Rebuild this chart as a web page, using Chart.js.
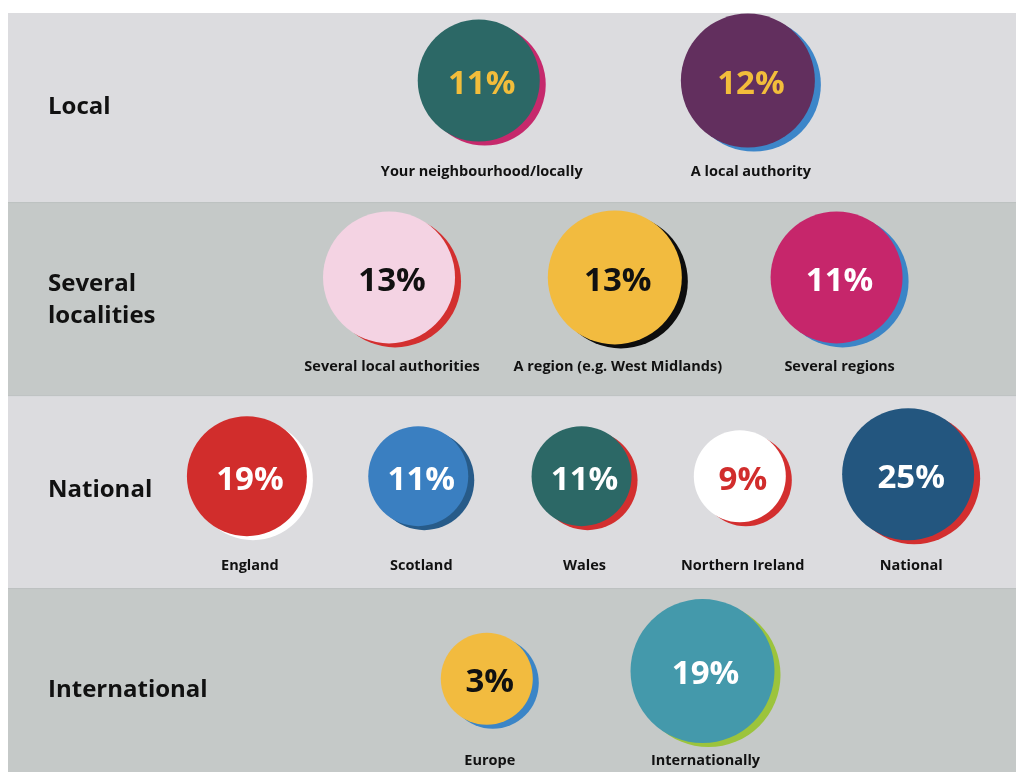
<!DOCTYPE html>
<html>
<head>
<meta charset="utf-8">
<title>Geographic reach</title>
<script src="https://cdn.jsdelivr.net/npm/chart.js@4.4.1/dist/chart.umd.min.js"></script>
<style>
  html, body { margin: 0; padding: 0; background: #fff; }
  #wrap { width: 1016px; height: 772px; position: relative; }
</style>
</head>
<body>
<div id="wrap"><canvas id="reach-chart"></canvas></div>
<script>
// Bands (rows) and the places shown in each
const rows = ["Local", ["Several", "localities"], "National", "International"];
const places = [
    "Your neighbourhood/locally", "A local authority",
    "Several local authorities", "A region (e.g. West Midlands)", "Several regions",
    "England", "Scotland", "Wales", "Northern Ireland", "National",
    "Europe", "Internationally"
];
const shares = [11, 12, 13, 13, 11, 19, 11, 11, 9, 25, 3, 19]; // percent
const rowOf = [0, 0, 1, 1, 1, 2, 2, 2, 2, 2, 3, 3];

// Layout: x across the width (0-100), y in row units (row i spans i..i+1)
const posX = [46.7, 73.4, 37.8, 60.2, 82.2, 23.7, 40.7, 56.9, 72.6, 89.3, 47.5, 68.9];
const posY = [0.37, 0.37, 1.39, 1.39, 1.39, 2.42, 2.42, 2.42, 2.42, 2.41, 3.47, 3.43];
const bubbleR = [61, 67, 66, 67, 66, 60, 50, 50, 46, 66, 46, 72];
const rowTitleY = [0.51, 1.51, 2.49, 3.53];
const placeLabelY = [0.843, 1.855, 2.886, 3.895];

// Colours
const fillColors = ["#2c6866", "#622f5e", "#f4d3e3", "#f2bb3f", "#c6266b", "#d12d2c",
    "#3a7fc1", "#2c6866", "#ffffff", "#23567f", "#f2bb3f", "#4499ab"];
const shadowColors = ["#c6296c", "#3d86c9", "#d32f2f", "#0d0d0d", "#3b85c7", "#ffffff",
    "#275b89", "#d32f2f", "#d32f2f", "#d32f2f", "#3b85c7", "#9cc43c"];
const textColors = ["#f2bd3b", "#f2bd3b", "#111111", "#111111", "#ffffff", "#ffffff",
    "#ffffff", "#ffffff", "#d12d2c", "#ffffff", "#111111", "#ffffff"];
const shadowShift = { x: 6, y: 4 };

const points = shares.map((v, i) => ({ x: posX[i], y: posY[i], r: bubbleR[i] }));

// Grey bands with row titles behind everything
const bandsPlugin = {
    id: "bands",
    beforeDraw(chart) {
        const { ctx, chartArea: a, scales: { y } } = chart;
        ctx.save();
        ctx.fillStyle = "#ffffff";
        ctx.fillRect(0, 0, chart.width, chart.height);
        rows.forEach((title, i) => {
            const top = Math.max(y.getPixelForValue(i), a.top);
            const bottom = Math.min(y.getPixelForValue(i + 1), a.bottom);
            ctx.fillStyle = i % 2 ? "#c5c9c8" : "#dcdcdf";
            ctx.fillRect(a.left, top, a.right - a.left, bottom - top);
            if (i > 0) {
                ctx.fillStyle = "#bcc0c0";
                ctx.fillRect(a.left, top, a.right - a.left, 1);
            }
            // row title
            const lines = Array.isArray(title) ? title : [title];
            const lh = 32;
            const cy = y.getPixelForValue(rowTitleY[i]);
            ctx.fillStyle = "#111111";
            ctx.font = "bold 24px 'Open Sans'";
            ctx.textAlign = "left";
            ctx.textBaseline = "middle";
            lines.forEach((ln, k) => {
                ctx.fillText(ln, a.left + 40, cy + (k - (lines.length - 1) / 2) * lh);
            });
        });
        ctx.restore();
    }
};

// Shift the shadow dataset down and right
const shadowPlugin = {
    id: "shadowShift",
    beforeDatasetDraw(chart, args) {
        if (args.index === 1) {
            chart.ctx.save();
            chart.ctx.translate(shadowShift.x, shadowShift.y);
        }
    },
    afterDatasetDraw(chart, args) {
        if (args.index === 1) chart.ctx.restore();
    }
};

// Percent inside each bubble, place name underneath
const labelsPlugin = {
    id: "bubbleLabels",
    afterDatasetsDraw(chart) {
        const { ctx, scales: { y } } = chart;
        const meta = chart.getDatasetMeta(0);
        ctx.save();
        ctx.textAlign = "center";
        ctx.textBaseline = "middle";
        meta.data.forEach((el, i) => {
            ctx.fillStyle = textColors[i];
            ctx.font = "bold 33px 'Open Sans'";
            ctx.fillText(shares[i] + "%", el.x + 3, el.y + 4);
            ctx.fillStyle = "#111111";
            ctx.font = "bold 14.5px 'Open Sans'";
            ctx.fillText(places[i], el.x + 3, y.getPixelForValue(placeLabelY[rowOf[i]]));
        });
        ctx.restore();
    }
};

new Chart(document.getElementById("reach-chart"), {
    type: "bubble",
    data: {
        datasets: [
            {
                label: "Share",
                data: points,
                backgroundColor: fillColors,
                borderWidth: 0,
                clip: false
            },
            {
                label: "Shadow",
                data: points,
                backgroundColor: shadowColors,
                borderWidth: 0,
                clip: false
            }
        ]
    },
    options: {
        responsive: true,
        maintainAspectRatio: false,
        animation: false,
        events: [],
        layout: { autoPadding: false, padding: { left: 8, top: 13, right: 0, bottom: 0 } },
        plugins: {
            legend: { display: false },
            tooltip: { enabled: false }
        },
        scales: {
            x: { type: "linear", min: 0, max: 100, display: false },
            y: { type: "linear", reverse: true, min: 0.02, max: 3.953, display: false }
        }
    },
    plugins: [bandsPlugin, shadowPlugin, labelsPlugin]
});
</script>
</body>
</html>
